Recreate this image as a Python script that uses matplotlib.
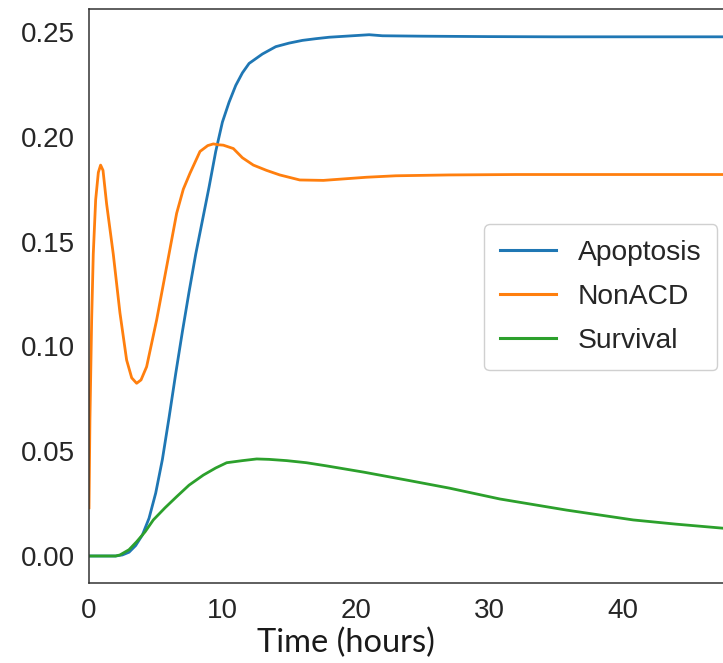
import matplotlib
matplotlib.use("Agg")
import matplotlib.pyplot as plt

# time (hours) and fraction of cells per outcome
t_apo = [0, 1, 2, 2.5, 3, 3.5, 4, 4.5, 5, 5.5, 6, 6.5, 7, 7.5, 8, 8.5, 9, 9.5, 10,
         10.5, 11, 11.5, 12, 13, 14, 15, 16, 17, 18, 20, 21, 22, 25, 30, 35, 40, 45, 48]
apoptosis = [0, 0, 0, 0.0005, 0.0018, 0.005, 0.010, 0.018, 0.030, 0.046, 0.066, 0.087,
             0.107, 0.126, 0.144, 0.160, 0.176, 0.193, 0.207, 0.2165, 0.2245, 0.2305,
             0.235, 0.2395, 0.243, 0.2447, 0.246, 0.2468, 0.2475, 0.2483, 0.2487,
             0.2482, 0.2480, 0.2478, 0.2477, 0.2477, 0.2477, 0.2477]

t_non = [0, 0.07, 0.2, 0.32, 0.5, 0.7, 0.87, 1.05, 1.32, 1.82, 2.32, 2.82, 3.2, 3.57,
         3.9, 4.32, 5.07, 5.82, 6.57, 7.07, 7.57, 8.32, 8.9, 9.32, 9.7, 10.07, 10.82,
         11.5, 12.32, 13.3, 14.3, 15.8, 17.57, 20.8, 23, 27, 32, 38, 48]
nonacd = [0.023, 0.065, 0.113, 0.144, 0.170, 0.183, 0.1865, 0.184, 0.168, 0.144, 0.116,
          0.0935, 0.085, 0.0824, 0.084, 0.0903, 0.1126, 0.138, 0.1635, 0.175, 0.1826,
          0.193, 0.1958, 0.1966, 0.1962, 0.196, 0.1944, 0.190, 0.1865, 0.184, 0.1818,
          0.1794, 0.1792, 0.1807, 0.1814, 0.1818, 0.182, 0.182, 0.182]

t_surv = [0, 1, 2, 2.32, 3, 3.57, 4.2, 4.82, 5.7, 6.57, 7.5, 8.57, 9.5, 10.32, 11.5,
          12.57, 13.5, 14.82, 16.3, 17.8, 20.6, 24, 27, 30.8, 35.8, 40.8, 44, 48]
survival = [0, 0, 0, 0.0005, 0.003, 0.0068, 0.0115, 0.0172, 0.023, 0.0283, 0.0338,
            0.0386, 0.042, 0.0445, 0.0455, 0.0463, 0.0461, 0.0455, 0.0445, 0.043,
            0.040, 0.036, 0.0324, 0.0272, 0.0219, 0.0172, 0.0152, 0.0130]

x_ticks = [0, 10, 20, 30, 40]
y_ticks = [0.00, 0.05, 0.10, 0.15, 0.20, 0.25]

W, H = 723, 663
fig = plt.figure(figsize=(W / 100, H / 100), dpi=100)
ax = fig.add_axes([89 / W, 1 - 582.7 / H, (729.3 - 89) / W, (582.7 - 9) / H])

ax.plot(t_apo, apoptosis, color="#1f77b4", lw=2.0, label="Apoptosis")
ax.plot(t_non, nonacd, color="#ff7f0e", lw=2.0, label="NonACD")
ax.plot(t_surv, survival, color="#2ca02c", lw=2.0, label="Survival")

ax.set_xlim(0, 48)
ax.set_ylim(-0.01274, 0.26097)
ax.set_xticks(x_ticks)
ax.set_yticks(y_ticks)
ax.set_yticklabels(["%.2f" % v for v in y_ticks])

for lab in ax.get_xticklabels() + ax.get_yticklabels():
    lab.set_fontfamily("Liberation Sans")
    lab.set_fontsize(20)
    lab.set_color("#262626")
ax.tick_params(axis="both", length=0)
ax.tick_params(axis="x", pad=11)
ax.tick_params(axis="y", pad=10)

for s in ax.spines.values():
    s.set_color("#333333")
    s.set_linewidth(1.1)

leg = ax.legend(loc="upper left", bbox_to_anchor=(484 / W, 1 - 224 / H),
                bbox_transform=fig.transFigure, borderaxespad=0,
                prop={"family": "Liberation Sans", "size": 20.3}, fancybox=True,
                framealpha=1, labelspacing=0.64, borderpad=0.57, handlelength=2.0,
                handletextpad=0.75)
leg.get_frame().set_edgecolor("#d0d0d0")
for txt in leg.get_texts():
    txt.set_color("#262626")
for line in leg.get_lines():
    line.set_linewidth(2.2)

# axis title sits left of the axes centre in the reference
fig.text(346 / W, 1 - 643 / H, "Time (hours)", fontfamily="Lato", fontsize=23.5,
         ha="center", va="center", color="#1a1a1a")

fig.savefig("out.png", dpi=100)
